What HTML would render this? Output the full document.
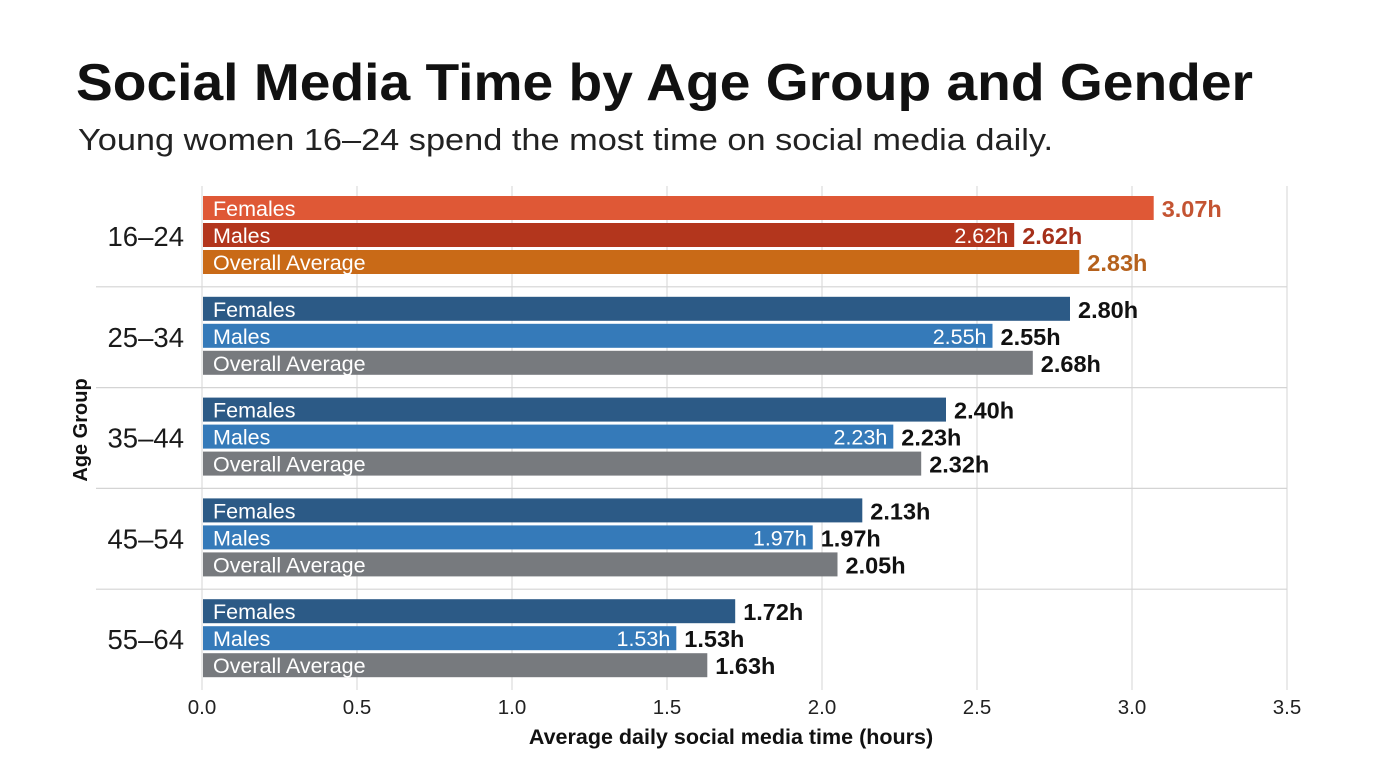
<!DOCTYPE html>
<html><head><meta charset="utf-8"><style>
html,body{margin:0;padding:0;background:#fff;}
svg{display:block;font-family:"Liberation Sans",sans-serif;}
</style></head><body>
<svg id="chart" width="1376" height="768" viewBox="0 0 1376 768" xmlns="http://www.w3.org/2000/svg">
<text x="76" y="100" font-size="52" font-weight="bold" fill="#111" textLength="1177" lengthAdjust="spacingAndGlyphs">Social Media Time by Age Group and Gender</text>
<text x="78" y="150" font-size="31" fill="#222" textLength="975" lengthAdjust="spacingAndGlyphs">Young women 16–24 spend the most time on social media daily.</text>
<g id="grid"></g>
<g id="bars"></g>
<text x="731" y="744" font-size="21.5" font-weight="bold" text-anchor="middle" fill="#111">Average daily social media time (hours)</text>
<text transform="translate(87,430) rotate(-90)" font-size="20" font-weight="bold" text-anchor="middle" fill="#111">Age Group</text>
</svg>
<script>
const groups = ["16–24","25–34","35–44","45–54","55–64"];
const females = [3.07,2.80,2.40,2.13,1.72];
const males = [2.62,2.55,2.23,1.97,1.53];
const overall = [2.83,2.68,2.32,2.05,1.63];
const ticks = [0,0.5,1.0,1.5,2.0,2.5,3.0,3.5];
const seriesNames = ["Females","Males","Overall Average"];

const NS="http://www.w3.org/2000/svg";
const X0=202, X1=1287, X_MAX=3.5, Y_TOP=186, Y_BOTTOM=690;
const xs=v=>X0+(X1-X0)*v/X_MAX;
const groupH=(Y_BOTTOM-Y_TOP)/groups.length;
function mk(tag,attrs,parent,text){const e=document.createElementNS(NS,tag);for(const k in attrs)e.setAttribute(k,attrs[k]);if(text!==undefined)e.textContent=text;parent.appendChild(e);return e;}
const gridG=document.getElementById('grid'), barsG=document.getElementById('bars');
ticks.forEach(t=>{
  const l=mk('line',{x1:xs(t),x2:xs(t),y1:Y_TOP,y2:Y_BOTTOM,stroke:'#dcdcdc','stroke-width':1.2},gridG);
  
  
  const tx=mk('text',{x:xs(t),y:714,'font-size':20.5,'text-anchor':'middle',fill:'#222'},gridG,t.toFixed(1));
  
  
});
for(let i=1;i<groups.length;i++){
  const y=Y_TOP+groupH*i;
  const l=mk('line',{x1:96,x2:X1,y1:y,y2:y,stroke:'#d4d4d4','stroke-width':1.2},gridG);
  
  
}
const series=[females,males,overall];
groups.forEach((g,i)=>{
  const gy=Y_TOP+groupH*i;
  const gl=mk('text',{x:184,y:gy+60,'font-size':27.5,'text-anchor':'end',fill:'#1a1a1a'},barsG,g);
  
  
  const first=i===0;
  const cols=first?['#df5836','#b3361d','#c96a17']:['#2c5a86','#357ab9','#777a7e'];
  const lblCols=first?['#c45432','#a5301a','#b5611c']:['#111','#111','#111'];
  series.forEach((s,j)=>{
    const v=s[i], y=gy+10+j*27;
    const r=mk('rect',{x:X0+1,y:y,width:xs(v)-X0-1,height:24,fill:cols[j]},barsG);
    
    
    const n=mk('text',{x:213,y:y+20,'font-size':21.5,fill:'#fff'},barsG,seriesNames[j]);
    
    
    if(j===1){
      const inl=mk('text',{x:xs(v)-6,y:y+20,'font-size':21.5,'text-anchor':'end',fill:'#fff'},barsG,v.toFixed(2)+'h');
      
      
    }
    const vl=mk('text',{x:xs(v)+8,y:y+21,'font-size':23.5,'font-weight':'bold',fill:lblCols[j]},barsG,v.toFixed(2)+'h');
    
    
  });
});
</script>
</body></html>
